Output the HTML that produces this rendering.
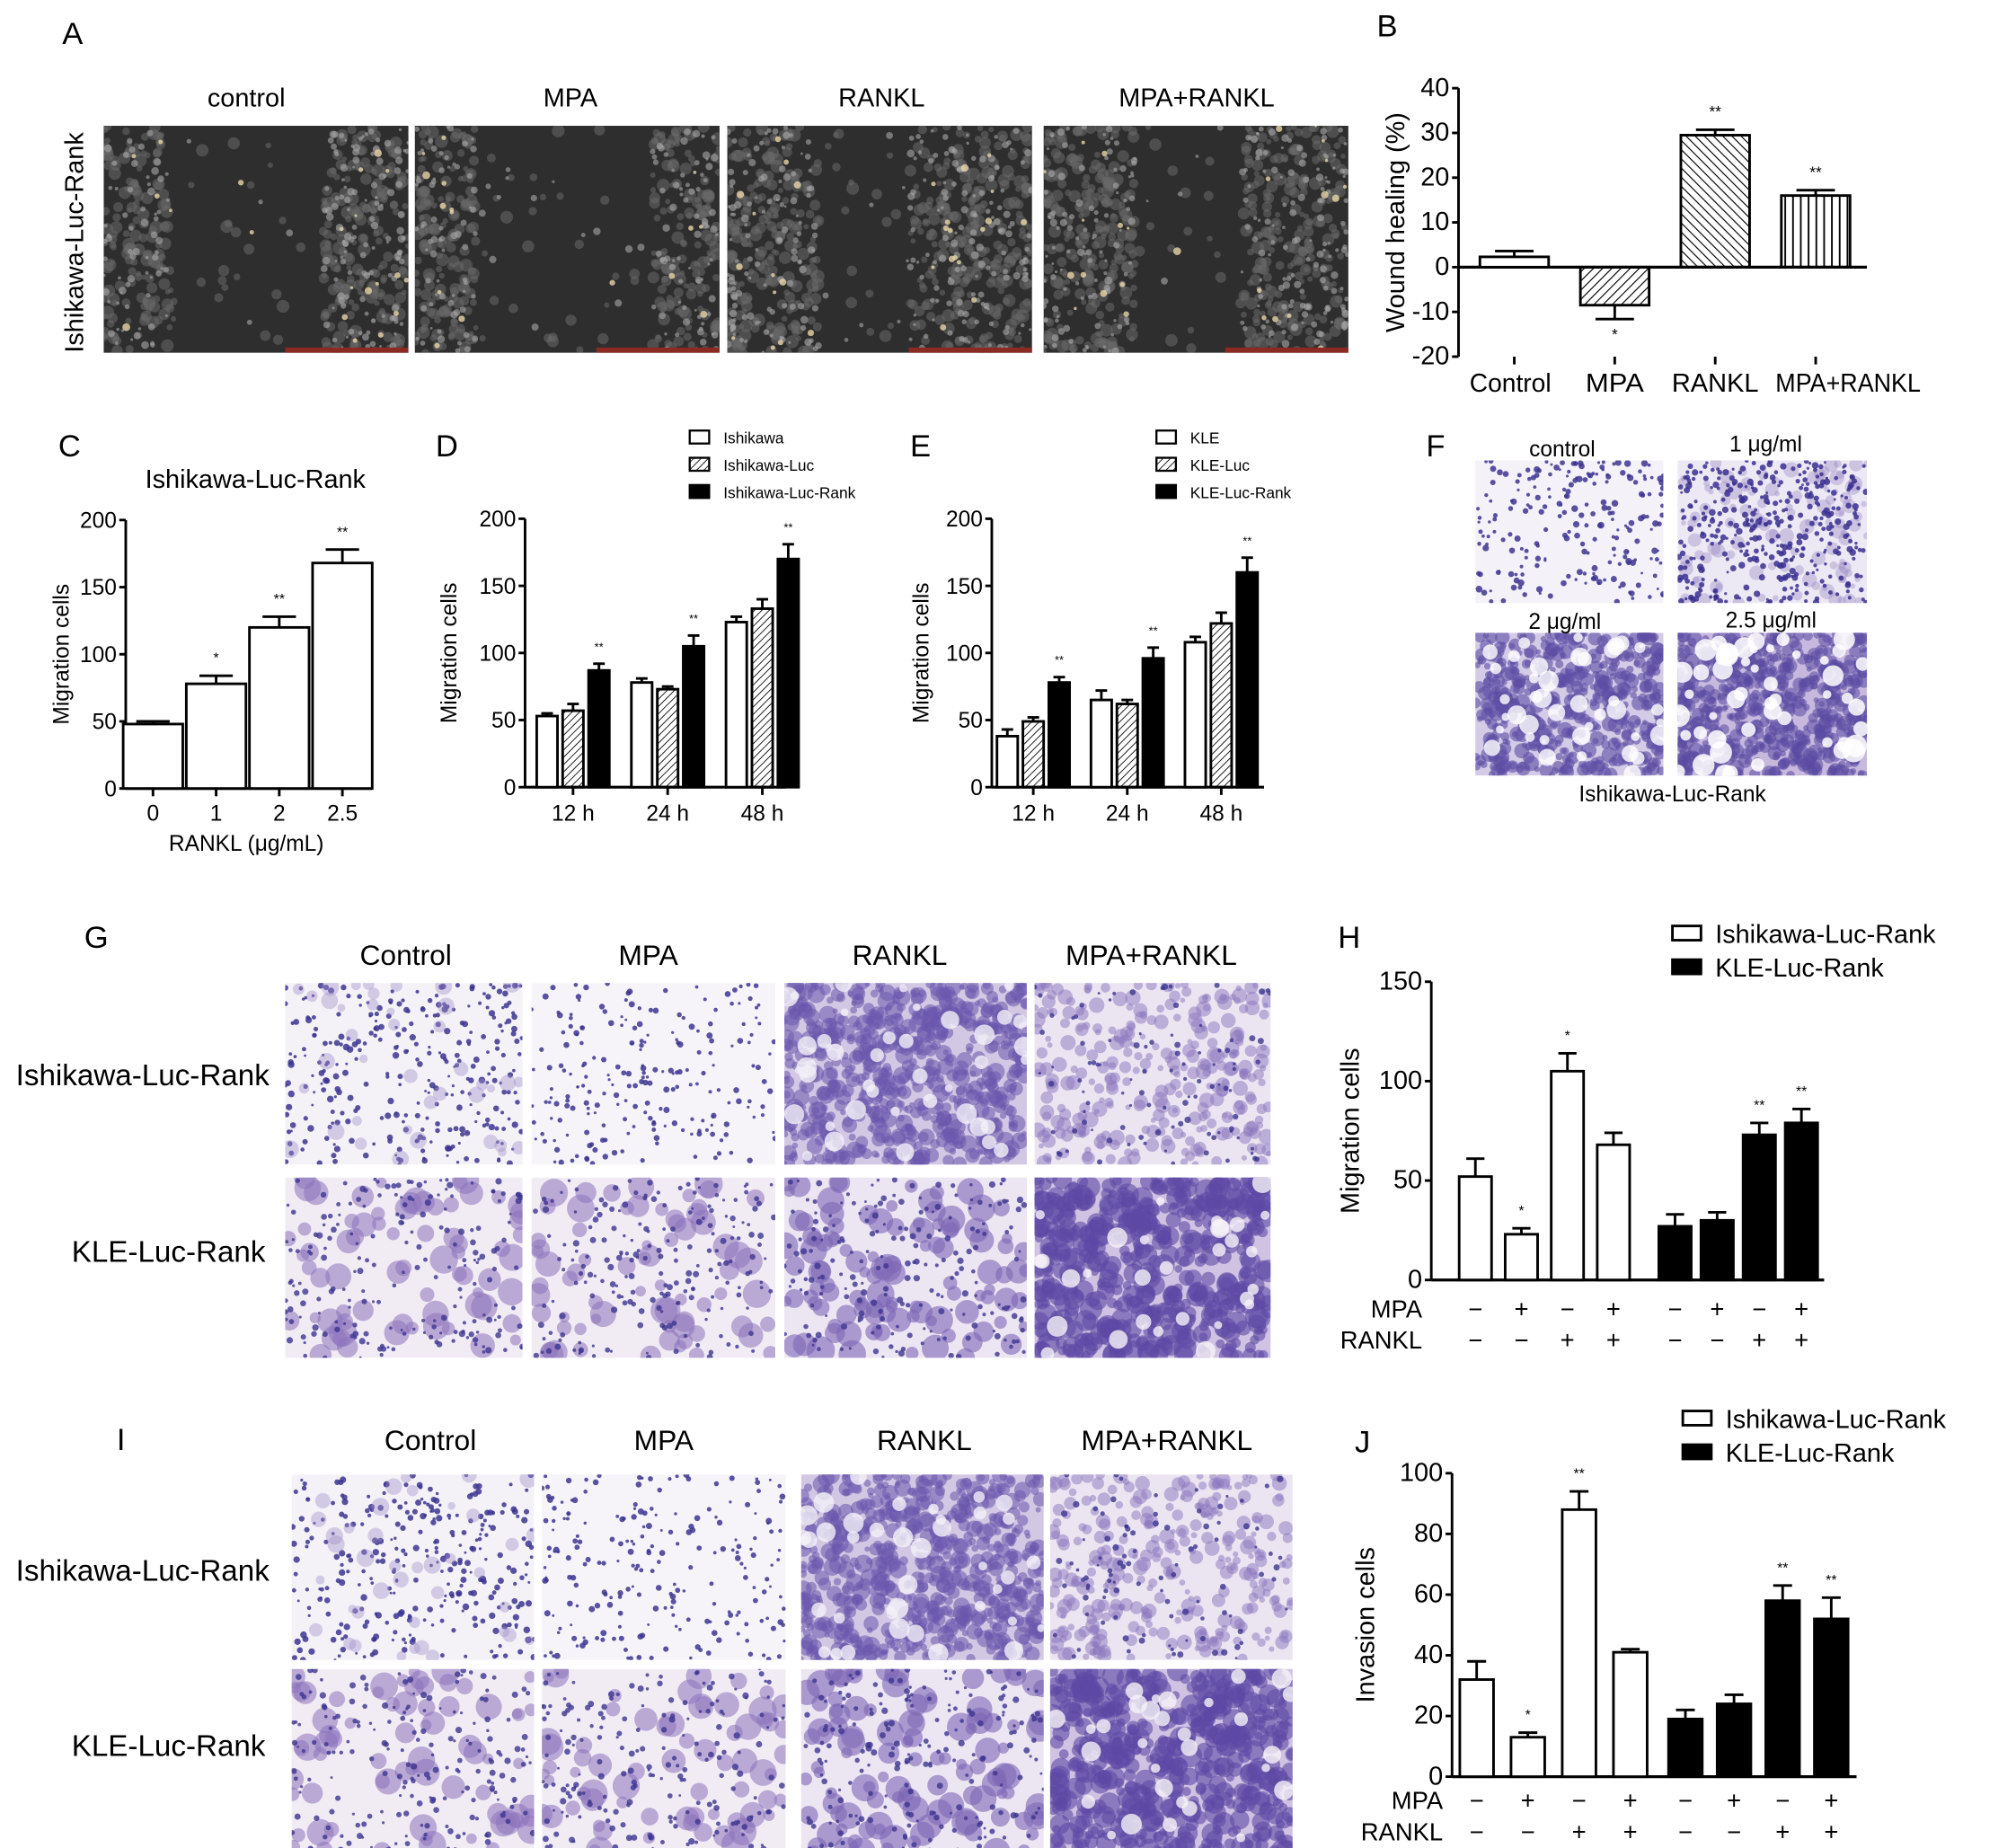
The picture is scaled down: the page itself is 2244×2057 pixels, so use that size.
<!DOCTYPE html>
<html><head><meta charset="utf-8"><style>
html,body{margin:0;padding:0;background:#fff;}
svg{display:block;font-family:"Liberation Sans",Arial,sans-serif;}
</style></head><body>
<svg id="fig" xmlns="http://www.w3.org/2000/svg" width="2244" height="2057" viewBox="0 0 1555 1425" preserveAspectRatio="none">
<defs>
<pattern id="hatchBack" patternUnits="userSpaceOnUse" width="5" height="5" patternTransform="rotate(-45)"><line x1="0" y1="0" x2="0" y2="5" stroke="#000" stroke-width="1.6"/></pattern>
<pattern id="hatchFwd" patternUnits="userSpaceOnUse" width="5" height="5" patternTransform="rotate(45)"><line x1="0" y1="0" x2="0" y2="5" stroke="#000" stroke-width="1.6"/></pattern>
<pattern id="hatchVert" patternUnits="userSpaceOnUse" width="6" height="6"><line x1="3" y1="0" x2="3" y2="6" stroke="#000" stroke-width="1.3"/></pattern>
<pattern id="hatchSm" patternUnits="userSpaceOnUse" width="4" height="4" patternTransform="rotate(45)"><line x1="0" y1="0" x2="0" y2="4" stroke="#000" stroke-width="1.2"/></pattern>
</defs>
<g id="images"></g>
<g id="charts"></g>
<g id="texts" fill="#000">
<text x="48" y="34" font-size="24">A</text>
<text x="1062" y="28" font-size="24">B</text>
<text x="45" y="352" font-size="24">C</text>
<text x="336" y="352" font-size="24">D</text>
<text x="702" y="352" font-size="24">E</text>
<text x="1100" y="352" font-size="24">F</text>
<text x="65" y="731" font-size="24">G</text>
<text x="1032" y="731" font-size="24">H</text>
<text x="90" y="1118" font-size="24">I</text>
<text x="1045" y="1120" font-size="24">J</text>
<g font-size="20" text-anchor="middle">
<text x="190" y="82">control</text>
<text x="440" y="82">MPA</text>
<text x="680" y="82">RANKL</text>
<text x="923" y="82">MPA+RANKL</text>
<text transform="translate(64,187) rotate(-90)">Ishikawa-Luc-Rank</text>
<text x="197" y="376">Ishikawa-Luc-Rank</text>
<text x="1205" y="352" font-size="17">control</text>
<text x="1362" y="348" font-size="17">1 μg/ml</text>
<text x="1207" y="485" font-size="17">2 μg/ml</text>
<text x="1366" y="484" font-size="17">2.5 μg/ml</text>
<text x="1290" y="618" font-size="17">Ishikawa-Luc-Rank</text>
<text x="313" y="744" font-size="22">Control</text>
<text x="500" y="744" font-size="22">MPA</text>
<text x="694" y="744" font-size="22">RANKL</text>
<text x="888" y="744" font-size="22">MPA+RANKL</text>
<text x="110" y="837" font-size="23">Ishikawa-Luc-Rank</text>
<text x="130" y="973" font-size="23">KLE-Luc-Rank</text>
<text x="332" y="1118" font-size="22">Control</text>
<text x="512" y="1118" font-size="22">MPA</text>
<text x="713" y="1118" font-size="22">RANKL</text>
<text x="900" y="1118" font-size="22">MPA+RANKL</text>
<text x="110" y="1219" font-size="23">Ishikawa-Luc-Rank</text>
<text x="130" y="1354" font-size="23">KLE-Luc-Rank</text>
</g>
</g>
</svg>
<script>
// ---- data ----
const bCats=['Control','MPA','RANKL','MPA+RANKL'];
const bVals=[2.3,-8.5,29.5,16];
const bErr=[1.3,3.1,1.2,1.2];
const bSig=['','*','**','**'];
const bTicks=[40,30,20,10,0,-10,-20];
const bLabelWidths=[63,45,67,112];
const bLabelShift=[-3,0,0,25];

const cCats=['0','1','2','2.5'];
const cVals=[48,78,120,168];
const cErr=[2,6,8,10];
const cSig=['','*','**','**'];
const cTicks=[0,50,100,150,200];

const dGroups=['12 h','24 h','48 h'];
const dIshikawa=[53,78,123];
const dIshikawaErr=[2,3,4];
const dIshikawaLuc=[57,73,133];
const dIshikawaLucErr=[5,2,7];
const dIshikawaRank=[87,105,170];
const dIshikawaRankErr=[5,8,11];

const eGroups=['12 h','24 h','48 h'];
const eKLE=[38,65,108];
const eKLEErr=[5,7,4];
const eKLELuc=[49,62,122];
const eKLELucErr=[3,3,8];
const eKLERank=[78,96,160];
const eKLERankErr=[4,8,11];
const migTicks=[0,50,100,150,200];

const hIsh=[52,23,105,68];
const hIshErr=[9,3,9,6];
const hIshSig=['','*','*',''];
const hKLE=[27,30,73,79];
const hKLEErr=[6,4,6,7];
const hKLESig=['','','**','**'];
const hTicks=[0,50,100,150];

const jIsh=[32,13,88,41];
const jIshErr=[6,1.5,6,1];
const jIshSig=['','*','**',''];
const jKLE=[19,24,58,52];
const jKLEErr=[3,3,5,7];
const jKLESig=['','','**','**'];
const jTicks=[0,20,40,60,80,100];

const mpaSigns=['−','+','−','+','−','+','−','+'];
const ranklSigns=['−','−','+','+','−','−','+','+'];

// ---- helpers ----
const NS='http://www.w3.org/2000/svg';
const charts=document.getElementById('charts');
const imgs=document.getElementById('images');
function mk(tag,attrs,parent){const e=document.createElementNS(NS,tag);for(const k in attrs)e.setAttribute(k,attrs[k]);(parent||charts).appendChild(e);return e;}
function txt(s,x,y,size,anchor,parent){const t=mk('text',{x:x,y:y,'font-size':size,'text-anchor':anchor||'middle'},parent);t.textContent=s;return t;}
function scale(min,max,py0,py1){return v=>py0-(v-min)/(max-min)*(py0-py1);}

function axes(name,x0,xEnd,yScale,ticks,baseVal,fs,label,labelX){
  const g=mk('g',{});
  
  
  const yTop=yScale(Math.max(...ticks)),yBot=yScale(Math.min(...ticks));
  mk('line',{x1:x0,y1:yTop,x2:x0,y2:yBot,stroke:'#000','stroke-width':2},g);
  mk('line',{x1:x0,y1:yScale(baseVal),x2:xEnd,y2:yScale(baseVal),stroke:'#000','stroke-width':2.2},g);
  ticks.forEach(t=>{
    mk('line',{x1:x0-5,y1:yScale(t),x2:x0,y2:yScale(t),stroke:'#000','stroke-width':2},g);
    const tl=txt(String(t),x0-7,yScale(t)+6,fs,'end',g);
    
    
  });
  const yl=txt(label,0,0,fs,'middle',g);
  yl.setAttribute('transform','translate('+labelX+','+((yTop+yBot)/2)+') rotate(-90)');
  
  
}
function bar(name,cx,w,val,err,yScale,fill,sig,sigSize){
  const g=mk('g',{});
  
  
  const y0=yScale(0),y1=yScale(val);
  const top=Math.min(y0,y1),h=Math.abs(y1-y0);
  const ye=yScale(val+(val>=0?err:-err));
  mk('line',{x1:cx,y1:y1,x2:cx,y2:ye,stroke:'#000','stroke-width':2},g);
  mk('line',{x1:cx-w*0.28,y1:ye,x2:cx+w*0.28,y2:ye,stroke:'#000','stroke-width':2},g);
  mk('rect',{x:cx-w/2,y:top,width:w,height:h,fill:fill,stroke:'#000','stroke-width':2},g);
  if(sig){const s=txt(sig,cx,val>=0?ye-10:ye+16,sigSize||11,'middle',g);
    
    }
}

// ---- Panel B ----
(function(){
  const y=scale(-20,40,275,68);
  axes('chart-b',1125,1440,y,bTicks,0,20,'Wound healing (%)',1083);
  const fills=['#fff','url(#hatchFwd)','url(#hatchBack)','url(#hatchVert)'];
  bCats.forEach((c,i)=>{
    const cx=1168+i*77.5;
    bar('bar-b-'+i,cx,53,bVals[i],bErr[i],y,fills[i],bSig[i],12);
    mk('line',{x1:cx,y1:275,x2:cx,y2:281,stroke:'#000','stroke-width':2});
    const t=txt(c,cx+bLabelShift[i],302,20,'middle');
    t.setAttribute('textLength',bLabelWidths[i]);
    t.setAttribute('lengthAdjust','spacingAndGlyphs');
    
    
  });
})();

// ---- Panel C ----
(function(){
  const y=scale(0,200,608,401);
  axes('chart-c',97,287,y,cTicks,0,17,'Migration cells',53);
  cCats.forEach((c,i)=>{
    const cx=118+i*48.7;
    bar('bar-c-'+i,cx,46,cVals[i],cErr[i],y,'#fff',cSig[i],11);
    mk('line',{x1:cx,y1:608,x2:cx,y2:614,stroke:'#000','stroke-width':2});
    const t=txt(c,cx,633,17,'middle');
    
    
  });
  const xl=txt('RANKL (μg/mL)',190,656,17,'middle');
  
  
})();

// ---- Panels D & E ----
function groupChart(name,x0,xEnd,start,step,groups,series,errs,legendX,legendNames,labelX){
  const y=scale(0,200,607,400);
  axes(name,x0,xEnd,y,migTicks,0,17,'Migration cells',labelX);
  const fills=['#fff','url(#hatchSm)','#000'];
  groups.forEach((gname,gi)=>{
    const gc=start+gi*step;
    series.forEach((s,si)=>{
      bar(name+'-bar-'+gi+'-'+si,gc+(si-1)*20,16,s[gi],errs[si][gi],y,fills[si],si===2?'**':'',9);
    });
    mk('line',{x1:gc,y1:607,x2:gc,y2:613,stroke:'#000','stroke-width':2});
    const t=txt(gname,gc,633,17,'middle');
    
    
  });
  legendNames.forEach((n,i)=>{
    const ly=338+i*21;
    const sw=mk('rect',{x:legendX,y:ly-6,width:15,height:10,fill:fills[i],stroke:'#000','stroke-width':1.6});
    
    
    const t=txt(n,legendX+26,ly+4,12,'start');
    
    
  });
}
groupChart('chart-d',405,606,442,73,dGroups,[dIshikawa,dIshikawaLuc,dIshikawaRank],[dIshikawaErr,dIshikawaLucErr,dIshikawaRankErr],532,['Ishikawa','Ishikawa-Luc','Ishikawa-Luc-Rank'],352);
groupChart('chart-e',765,975,797,72.5,eGroups,[eKLE,eKLELuc,eKLERank],[eKLEErr,eKLELucErr,eKLERankErr],892,['KLE','KLE-Luc','KLE-Luc-Rank'],716);

// ---- Panels H & J ----
function pairChart(name,x0,xEnd,y0,y1,ticks,ish,ishErr,ishSig,kle,kleErr,kleSig,ishStart,ishStep,kleStart,kleStep,bw,label,labelX,legY,legX,signY){
  const y=scale(0,Math.max(...ticks),y0,y1);
  axes(name,x0,xEnd,y,ticks,0,20,label,labelX);
  const centers=[];
  ish.forEach((v,i)=>{const cx=ishStart+i*ishStep;centers.push(cx);bar(name+'-ishikawa-bar-'+i,cx,bw,v,ishErr[i],y,'#fff',ishSig[i],11);});
  kle.forEach((v,i)=>{const cx=kleStart+i*kleStep;centers.push(cx);bar(name+'-kle-bar-'+i,cx,bw,v,kleErr[i],y,'#000',kleSig[i],11);});
  const ml=txt('MPA',x0-7,signY,19,'end');
  const rl=txt('RANKL',x0-7,signY+24,19,'end');
  centers.forEach((cx,i)=>{
    const a=txt(mpaSigns[i],cx,signY,19,'middle');
    const b=txt(ranklSigns[i],cx,signY+24,19,'middle');
  });
  [['Ishikawa-Luc-Rank','#fff'],['KLE-Luc-Rank','#000']].forEach((l,i)=>{
    const ly=legY+i*26;
    const sw=mk('rect',{x:legX,y:ly-7,width:22,height:11,fill:l[1],stroke:'#000','stroke-width':2});
    
    const t=txt(l[0],legX+33,ly+6,20,'start');
    
  });
}
pairChart('chart-h',1104,1407,987,757,hTicks,hIsh,hIshErr,hIshSig,hKLE,hKLEErr,hKLESig,1138,35.5,1292,32.5,25,'Migration cells',1048,721,1290,1016);
pairChart('chart-j',1120,1432,1370,1136,jTicks,jIsh,jIshErr,jIshSig,jKLE,jKLEErr,jKLESig,1139,39.5,1300,37.5,26,'Invasion cells',1060,1095,1298,1395);

// ---- micrograph textures (deterministic) ----
let seed=12345;
function rnd(){seed=(seed*1103515245+12345)%2147483648;return seed/2147483648;}
function micro(name,x,y,w,h,bg,layers){
  const g=mk('g',{},imgs);
  
  
  mk('rect',{x:x,y:y,width:w,height:h,fill:bg},g);
  const cp='cp'+Math.floor(rnd()*1e9);
  const c=mk('clipPath',{id:cp},g);mk('rect',{x:x,y:y,width:w,height:h},c);
  const inner=mk('g',{'clip-path':'url(#'+cp+')'},g);
  layers.forEach(L=>{
    for(let i=0;i<L.n;i++){
      let px=x+rnd()*w, py=y+rnd()*h;
      if(L.band){const bx=x+L.band[0]*w,bw=(L.band[1]-L.band[0])*w;if(px>bx&&px<bx+bw){if(rnd()>0.06)continue;}}
      const r=L.r0+rnd()*(L.r1-L.r0);
      mk('circle',{cx:px.toFixed(1),cy:py.toFixed(1),r:r.toFixed(1),fill:L.c,'fill-opacity':L.o},inner);
    }
  });
  return g;
}
// Panel A scratch images
const aX=[80,320,561,805];
const aBands=[[0.22,0.72],[0.2,0.78],[0.3,0.6],[0.3,0.65]];
aX.forEach((x,i)=>{
  const g=micro('a-scratch-image-'+i,x,97,235,175,'#2e2e2e',[
    {n:700,r0:2,r1:5,c:'#6a6a6a',o:0.55,band:aBands[i]},
    {n:350,r0:1,r1:3,c:'#a9a9a9',o:0.6,band:aBands[i]},
    {n:40,r0:1,r1:3,c:'#e8d6a8',o:0.8,band:aBands[i]}]);
  mk('rect',{x:x+140,y:268,width:95,height:4,fill:'#8b2a22'},g);
});
// Panel F
micro('f-image-control',1138,355,145,110,'#f4f2f8',[{n:220,r0:1,r1:2.6,c:'#3d3590',o:0.85}]);
micro('f-image-1',1294,355,146,110,'#ede9f4',[{n:120,r0:2,r1:6,c:'#9a8ac6',o:0.4},{n:380,r0:1,r1:2.6,c:'#3a3090',o:0.85}]);
micro('f-image-2',1138,488,145,110,'#d4cbe6',[{n:500,r0:2,r1:6,c:'#5d4fa5',o:0.6},{n:40,r0:3,r1:8,c:'#fff',o:0.8}]);
micro('f-image-25',1294,488,146,110,'#c7b8de',[{n:600,r0:2,r1:6,c:'#5a4aa3',o:0.55},{n:50,r0:3,r1:9,c:'#fff',o:0.85}]);
// Panel G
const gX=[220,410,605,798],gW=[183,188,187,182];
const sparse=[{n:300,r0:1,r1:2.6,c:'#3c3590',o:0.85},{n:40,r0:3,r1:7,c:'#9f8fc9',o:0.4}];
const kleL=[{n:70,r0:4,r1:11,c:'#8c72bb',o:0.55},{n:200,r0:1,r1:2.5,c:'#3c3590',o:0.8}];
function gSet(prefix,xs,ws,y1,h1,y2,h2){
  micro(prefix+'-ishikawa-control',xs[0],y1,ws[0],h1,'#f4f2f7',sparse);
  micro(prefix+'-ishikawa-mpa',xs[1],y1,ws[1],h1,'#f6f4f8',[{n:220,r0:1,r1:2.4,c:'#3c3590',o:0.85}]);
  micro(prefix+'-ishikawa-rankl',xs[2],y1,ws[2],h1,'#d3c8e4',[{n:650,r0:2,r1:7,c:'#6a58ad',o:0.55},{n:40,r0:3,r1:8,c:'#f3f0f7',o:0.8}]);
  micro(prefix+'-ishikawa-mpa-rankl',xs[3],y1,ws[3],h1,'#ebe5f1',[{n:300,r0:2,r1:6,c:'#8a75bd',o:0.5},{n:100,r0:1,r1:2.5,c:'#3c3590',o:0.8}]);
  micro(prefix+'-kle-control',xs[0],y2,ws[0],h2,'#f1ecf4',kleL);
  micro(prefix+'-kle-mpa',xs[1],y2,ws[1],h2,'#f1ecf4',kleL);
  micro(prefix+'-kle-rankl',xs[2],y2,ws[2],h2,'#ece5f2',[{n:110,r0:4,r1:11,c:'#7d65b5',o:0.6},{n:200,r0:1,r1:2.5,c:'#3c3590',o:0.8}]);
  micro(prefix+'-kle-mpa-rankl',xs[3],y2,ws[3],h2,'#cfc2e2',[{n:500,r0:3,r1:9,c:'#5d4aa5',o:0.6},{n:30,r0:3,r1:8,c:'#f5f2f8',o:0.8}]);
}
gSet('g-image',gX,gW,758,140,908,139);
gSet('i-image',[225,418,618,810],[187,188,187,187],1137,143,1287,141);
</script>
</body></html>
